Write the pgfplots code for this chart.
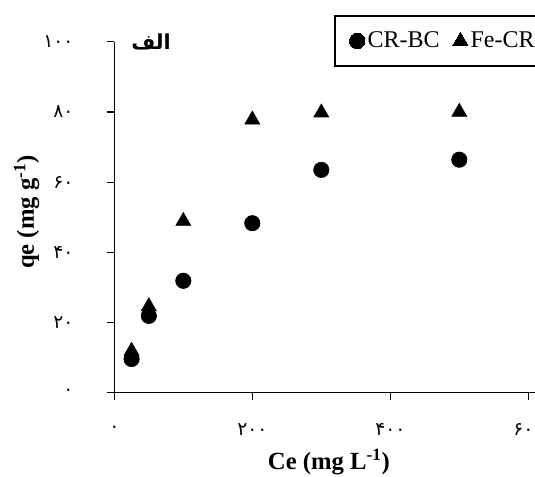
\documentclass[border=0pt]{standalone}
\usepackage{pgfplots}
\pgfplotsset{compat=1.18}
\usepackage{fontspec}
\setmainfont{Liberation Serif}
\newfontfamily\arabicfont[Script=Arabic]{DejaVu Sans}
\TeXXeTstate=1
\begin{document}
\begin{tikzpicture}
\begin{axis}[
  x=0.5175pt, y=2.6325pt,
  xmin=0, xmax=640, ymin=0, ymax=100,
  axis x line*=bottom, axis y line*=left,
  axis line style={line width=0.9pt, black},
  tick align=outside,
  major tick length=5.5pt,
  tick style={line width=0.9pt, black},
  xtick={0,200,400,600},
  xticklabels={۰,۲۰۰,۴۰۰,۶۰۰},
  ytick={0,20,40,60,80,100},
  yticklabels={۰,۲۰,۴۰,۶۰,۸۰,۱۰۰},
  xticklabel style={font=\arabicfont\fontsize{14}{16}\selectfont, anchor=center, inner sep=0pt, yshift=-22pt},
  yticklabel style={font=\arabicfont\fontsize{14}{16}\selectfont, anchor=east, inner sep=0pt, xshift=-25pt},
  clip=false,
  xlabel={\bfseries Ce (mg L\textsuperscript{-1})},
  ylabel={\bfseries qe (mg g\textsuperscript{-1})},
  every axis x label/.style={at={(axis cs:311,-19.7)}, anchor=center, font=\fontsize{18.5}{22}\selectfont},
  every axis y label/.style={at={(axis cs:-127,51.5)}, anchor=center, rotate=90, font=\fontsize{18.5}{22}\selectfont},
  legend style={at={(axis cs:318.4,107.6)}, anchor=north west, draw=black, line width=1.2pt,
    font=\fontsize{18}{21}\selectfont, inner xsep=11pt, inner ysep=10pt,
    legend columns=2, /tikz/every even column/.append style={column sep=8pt}},
  legend cell align=left,
  legend image code/.code={\draw[#1, line width=0pt] plot coordinates {(0pt,0pt)};},
]
\addplot[only marks, mark=*, mark size=5.8pt, black] coordinates {
  (25,9.6) (50,21.9) (100,31.9) (200,48.3) (300,63.5) (500,66.4)
};
\addlegendentry{CR-BC}
\addplot[only marks, mark=triangle*, mark size=6.5pt, black] coordinates {
  (25,11.9) (50,24.6) (100,48.9) (200,77.8) (300,79.8) (500,80.0)
};
\addlegendentry{Fe-CR}
\node[font=\arabicfont\bfseries\fontsize{15.5}{18}\selectfont, anchor=center] at (axis cs:53.2,99.9) {\beginR الف\endR};
\coordinate (bl) at (axis cs:-165.7,-24.0);
\coordinate (tr) at (axis cs:609.7,111.9);
\end{axis}
\pgfresetboundingbox
\useasboundingbox (bl) rectangle (tr);
\end{tikzpicture}
\end{document}
